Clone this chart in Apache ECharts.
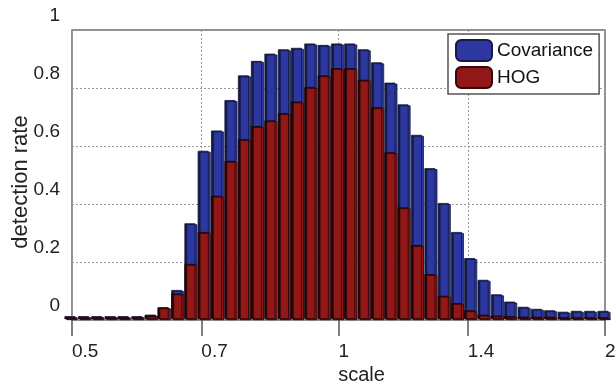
<!DOCTYPE html>
<html>
<head>
<meta charset="utf-8">
<script src="https://cdn.jsdelivr.net/npm/echarts@6/dist/echarts.min.js"></script>
<style>html,body{margin:0;padding:0;background:#fff;}#c{width:615px;height:389px;}</style>
</head>
<body>
<div id="c"></div>
<script>
// scale values of the bars (x axis, log spaced)
const scales = [0.5, 0.518, 0.536, 0.555, 0.574, 0.595, 0.616, 0.637, 0.660, 0.683,
  0.707, 0.732, 0.758, 0.785, 0.812, 0.841, 0.871, 0.901, 0.933, 0.966,
  1, 1.035, 1.072, 1.110, 1.149, 1.189, 1.231, 1.275, 1.320, 1.366,
  1.414, 1.464, 1.516, 1.569, 1.625, 1.682, 1.741, 1.803, 1.866, 1.932, 2];
const covariance = [0.01, 0.01, 0.01, 0.01, 0.01, 0.01, 0.015, 0.04, 0.10, 0.33,
  0.58, 0.65, 0.755, 0.84, 0.89, 0.915, 0.93, 0.935, 0.95, 0.945,
  0.95, 0.95, 0.93, 0.885, 0.815, 0.74, 0.635, 0.52, 0.40, 0.30,
  0.21, 0.135, 0.085, 0.06, 0.042, 0.035, 0.03, 0.025, 0.028, 0.028, 0.028];
const hog = [0.005, 0.005, 0.005, 0.005, 0.005, 0.005, 0.012, 0.04, 0.088, 0.19,
  0.30, 0.425, 0.545, 0.62, 0.665, 0.685, 0.71, 0.75, 0.80, 0.84,
  0.865, 0.865, 0.825, 0.73, 0.575, 0.385, 0.255, 0.155, 0.08, 0.055,
  0.03, 0.015, 0.012, 0.01, 0.008, 0.008, 0.008, 0.006, 0.006, 0.006, 0.006];
const xTickScales = [0.5, 0.7, 1, 1.4, 2];
const xTickLabels = ['0.5', '0.7', '1', '1.4', '2'];
const yTickValues = [0, 0.2, 0.4, 0.6, 0.8, 1];
const yTickLabels = ['0', '0.2', '0.4', '0.6', '0.8', '1'];

const xTickPos = xTickScales.map(Math.log2);
const toPairs = arr => arr.map((v, i) => [Math.log2(scales[i]), v]);
const FONT = 'Liberation Sans, Arial, sans-serif';

const chart = echarts.init(document.getElementById('c'), null, {renderer: 'canvas'});
chart.setOption({
  animation: false,
  backgroundColor: '#fff',
  grid: {left: 72, right: 10, top: 30, bottom: 69, show: true, outerBoundsMode: 'none', containLabel: false,
         borderColor: '#6e6e6e', borderWidth: 1.5, backgroundColor: 'transparent'},
  legend: {
    left: 448, top: 34, orient: 'vertical',
    itemWidth: 36, itemHeight: 21, itemGap: 4,
    padding: [5, 6, 5, 7],
    borderColor: '#555', borderWidth: 1.5, backgroundColor: '#fff',
    textStyle: {fontSize: 19, color: '#111', fontFamily: FONT},
    data: [{name: 'Covariance', itemStyle: {shadowBlur: 0, shadowOffsetX: 0, shadowOffsetY: 0, shadowColor: 'transparent'}},
           {name: 'HOG', itemStyle: {shadowBlur: 0, shadowOffsetX: 0, shadowOffsetY: 0, shadowColor: 'transparent'}}]
  },
  xAxis: {
    type: 'value', min: -1, max: 1,
    name: 'scale', nameLocation: 'middle', nameGap: 45, nameMoveOverlap: false,
    nameTextStyle: {fontSize: 20, color: '#222', fontFamily: FONT, padding: [0, 0, 0, 46]},
    axisLine: {show: false},
    axisTick: {show: true, customValues: xTickPos, length: 16, lineStyle: {color: '#555', width: 1.5}},
    axisLabel: {
      customValues: xTickPos, align: 'left', margin: 22,
      fontSize: 19, color: '#222', fontFamily: FONT,
      showMinLabel: true, showMaxLabel: true,
      formatter: v => {
        let best = 0;
        xTickPos.forEach((p, i) => { if (Math.abs(p - v) < Math.abs(xTickPos[best] - v)) best = i; });
        return xTickLabels[best];
      }
    },
    splitLine: {show: true, lineStyle: {color: '#999', type: [2, 2], width: 1}}
  },
  yAxis: {
    type: 'value', min: 0, max: 1, interval: 0.2,
    name: 'detection rate', nameLocation: 'middle', nameGap: 40, nameMoveOverlap: false,
    nameTextStyle: {fontSize: 22, color: '#222', fontFamily: FONT, padding: [0, 14, 0, 0]},
    axisLine: {show: false},
    axisTick: {show: false},
    axisLabel: {
      customValues: yTickValues,
      margin: 12, fontSize: 19, color: '#222', fontFamily: FONT,
      lineHeight: 28, showMinLabel: true, showMaxLabel: true, hideOverlap: false,
      formatter: v => {
        let best = 0;
        yTickValues.forEach((p, i) => { if (Math.abs(p - v) < Math.abs(yTickValues[best] - v)) best = i; });
        return yTickLabels[best] + '\n ';
      }
    },
    splitLine: {show: true, lineStyle: {color: '#999', type: [2, 2], width: 1}}
  },
  series: [
    {
      name: 'Covariance', type: 'bar', data: toPairs(covariance),
      barWidth: 11, barGap: '-100%',
      itemStyle: {color: '#2c389f', borderColor: '#141a4a', borderWidth: 0.8,
                  shadowColor: '#141a40', shadowOffsetX: -2, shadowOffsetY: -1, shadowBlur: 0}
    },
    {
      name: 'HOG', type: 'bar', data: toPairs(hog),
      barWidth: 11, barGap: '-100%',
      itemStyle: {color: '#921818', borderColor: '#3a0808', borderWidth: 0.8,
                  shadowColor: '#1e0606', shadowOffsetX: -2, shadowOffsetY: -1, shadowBlur: 0}
    }
  ]
});
</script>
</body>
</html>
